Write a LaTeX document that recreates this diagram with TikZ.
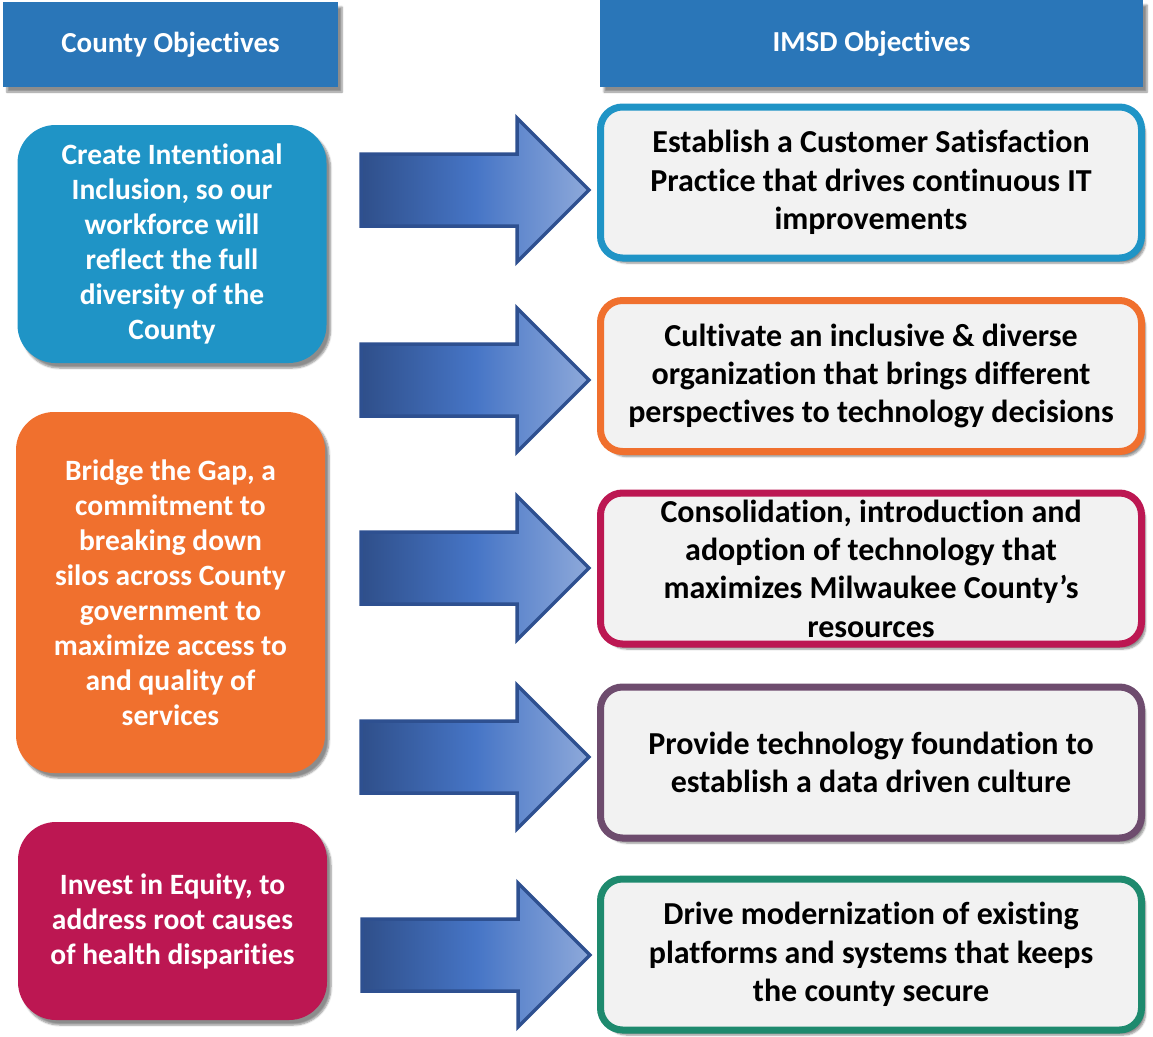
\documentclass[tikz,border=0pt]{standalone}
\usepackage{fontspec}
\setmainfont{Carlito}[Ligatures=NoCommon]
\usepackage{tikz}
\usetikzlibrary{calc,shadows,shadows.blur}

\definecolor{hdrblue}{HTML}{2A76B8}
\definecolor{objblue}{HTML}{1F94C6}
\definecolor{objorange}{HTML}{F0702E}
\definecolor{objmagenta}{HTML}{BC1752}
\definecolor{objpurple}{HTML}{6E4C6E}
\definecolor{objgreen}{HTML}{1E8A6E}
\definecolor{boxgray}{HTML}{F2F2F2}
\definecolor{arrowdark}{HTML}{2F4F8A}
\definecolor{arrowmid}{HTML}{4675C6}
\definecolor{arrowlight}{HTML}{8EA9DA}
\definecolor{arrowline}{HTML}{2E5090}

\tikzset{
  hdr/.style={fill=hdrblue, text=white, font=\bfseries\fontsize{29}{34}\selectfont,
    blur shadow={shadow xshift=4pt, shadow yshift=-5pt, shadow opacity=45, shadow blur steps=6}},
  countyobj/.style={rounded corners=38pt, text=white, align=center, minimum width=309, inner sep=0pt,
    font=\bfseries\fontsize{29.5}{35}\selectfont,
    blur shadow={shadow xshift=4pt, shadow yshift=-5pt, shadow opacity=45, shadow blur steps=6}},
  imsdobj/.style={rounded corners=22pt, fill=boxgray, line width=7pt, align=center,
    minimum width=541, minimum height=151, inner sep=0pt,
    font=\bfseries\fontsize{32}{38.3}\selectfont,
    blur shadow={shadow xshift=4pt, shadow yshift=-5pt, shadow opacity=45, shadow blur steps=6}},
  arrowbody/.style={draw=arrowline, line width=3.5pt, line join=miter,
    left color=arrowdark, right color=arrowlight, middle color=arrowmid}
}

\def\blockarrow(#1){\draw[arrowbody] ($(#1)+(0,-36)$) -- ++(156,0) -- ++(0,-36) -- ($(#1)+(228,0)$)
  -- ($(#1)+(156,72)$) -- ++(0,-36) -- ($(#1)+(0,36)$) -- cycle;}

\begin{document}
\begin{tikzpicture}[x=1pt, y=-1pt]
			%%%%% START %%%%%
			\useasboundingbox (0, 0) rectangle (1153, 1036);
			
			\node[hdr, minimum width=335, minimum height=85] (hdrcounty) at (170.5, 44.5) {County Objectives};
			\node[hdr, minimum width=543, minimum height=87] (hdrimsd) at (871.5, 43.5) {IMSD Objectives};
			
			%% county objectives
			\node[countyobj, fill=objblue, minimum height=238] (inclusion) at (172, 244)
				{Create Intentional\\Inclusion, so our\\workforce will\\reflect the full\\diversity of the\\County};
			\node[countyobj, fill=objorange, minimum height=361] (gap) at (170.5, 592.5)
				{Bridge the Gap, a\\commitment to\\breaking down\\silos across County\\government to\\maximize access to\\and quality of\\services};
			\node[countyobj, fill=objmagenta, minimum height=198] (equity) at (172.5, 921)
				{Invest in Equity, to\\address root causes\\of health disparities};
			
			%% arrows
			\coordinate (a1) at (361, 190);
			\coordinate (a2) at (361, 380);
			\coordinate (a3) at (361, 568);
			\coordinate (a4) at (361, 757);
			\coordinate (a5) at (362, 955);
			\blockarrow(a1)
			\blockarrow(a2)
			\blockarrow(a3)
			\blockarrow(a4)
			\blockarrow(a5)
			
			%% IMSD objectives
			\node[imsdobj, draw=objblue] (satisfaction) at (871, 182.5)
				{Establish a Customer Satisfaction\\Practice that drives continuous IT\\improvements};
			\node[imsdobj, draw=objorange] (diverse) at (871, 376)
				{Cultivate an inclusive \& diverse\\organization that brings different\\perspectives to technology decisions};
			\node[imsdobj, draw=objmagenta] (consolidation) at (871, 568.5)
				{Consolidation, introduction and\\adoption of technology that\\maximizes Milwaukee County’s\\resources};
			\node[imsdobj, draw=objpurple] (datadriven) at (871, 762.5)
				{Provide technology foundation to\\establish a data driven culture};
			\node[imsdobj, draw=objgreen] (modernize) at (871, 954.5)
				{Drive modernization of existing\\platforms and systems that keeps\\the county secure};
			
			%%%%% END %%%%%
		\end{tikzpicture}
\end{document}
